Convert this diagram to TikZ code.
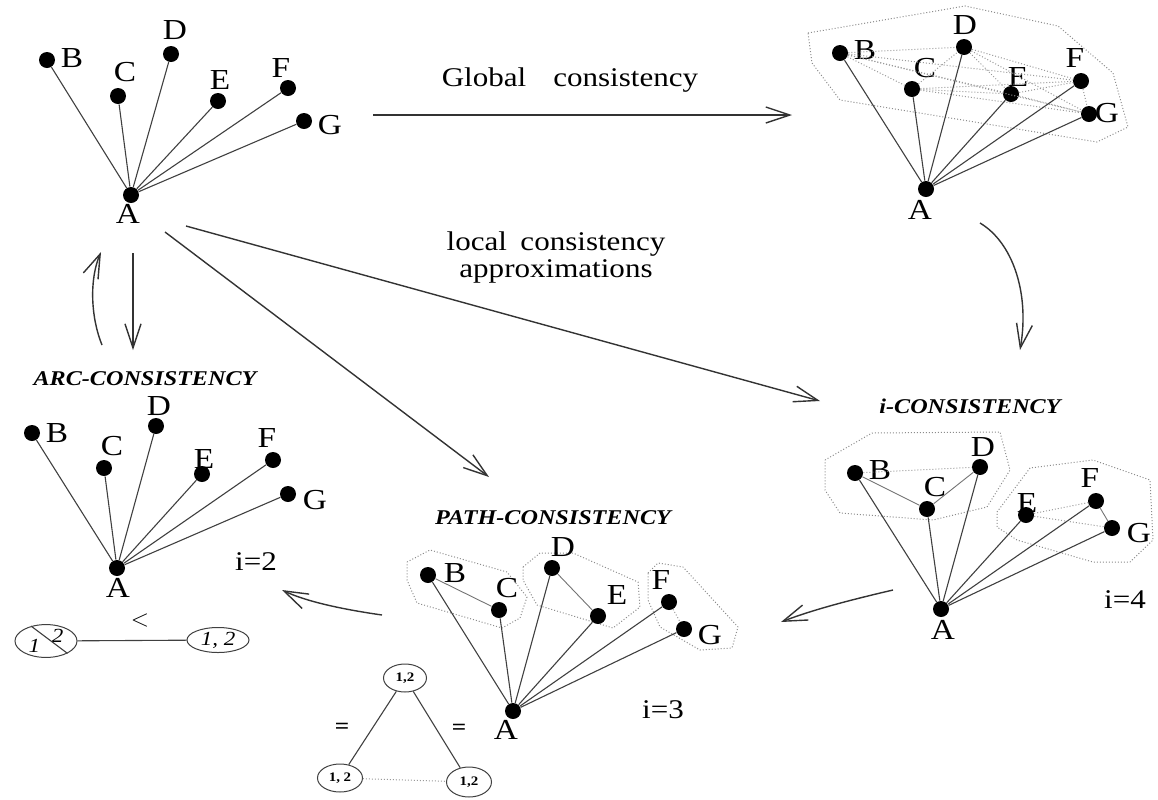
\documentclass[tikz,border=0pt]{standalone}
\usepackage{fontspec}
\setmainfont[FakeStretch=1.15]{Liberation Serif}
\usetikzlibrary{arrows.meta,shapes.geometric}

\begin{document}
\begin{tikzpicture}[x=0.5pt,y=-0.5pt,
  dot/.style={circle,fill=black,inner sep=0pt,minimum size=8pt},
  lbl/.style={font=\fontsize{14.5}{14.5}\selectfont,inner sep=1pt},
  edge/.style={draw=black!75,line width=0.55pt},
  thin/.style={draw=black!55,line width=0.45pt},
  weak/.style={draw=black!40,densely dotted,line width=0.5pt},
  hull/.style={draw=black!45,densely dotted,line width=0.5pt},
  arr/.style={draw=black!80,line width=0.7pt,-{Straight Barb[length=12pt,width=8pt]}},
  heading/.style={font=\fontsize{10.5}{10.5}\selectfont\bfseries\itshape,inner sep=1pt},
  dom/.style={ellipse,draw=black!75,line width=0.5pt,inner sep=0pt,
    minimum width=21.5pt,minimum height=14pt,font=\fontsize{6.5}{7}\selectfont\bfseries},
  dom2/.style={ellipse,draw=black!75,line width=0.5pt,inner sep=0pt,
    minimum width=31pt,minimum height=13pt,font=\fontsize{10}{10}\selectfont\itshape}
]
  \useasboundingbox (0,0) rectangle (1158,799);

  % the original network (top left)
  \foreach \n/\t/\x/\y/\lx/\ly in {a/A/131/195/128/214, b/B/47/60/72/58, c/C/118/96/125/72,
      d/D/171/54/175/30, e/E/218/101/220/80, f/F/288/88/281/68, g/G/304/121/330/125}
  {
    \node[dot] (\n1) at (\x,\y) {};
    \node[lbl] (\n1t) at (\lx,\ly) {\t};
  }
  \foreach \n in {b,c,d,e,f,g}
    \draw[edge] (a1) -- (\n1);

  % globally consistent network (top right)
  \draw[hull] (808,33) -- (965,6) -- (1058,26) -- (1113,73) -- (1128,127)
    -- (1097,142) -- (840,100) -- (812,63) -- cycle;
  \foreach \n/\t/\x/\y/\lx/\ly in {a/A/926/189/920/210, b/B/840/53/865/50, c/C/912/89/925/68,
      d/D/964/47/965/25, e/E/1011/94/1018/77, f/F/1081/81/1075/58, g/G/1089/114/1107/113}
  {
    \node[dot] (\n2) at (\x,\y) {};
    \node[lbl] (\n2t) at (\lx,\ly) {\t};
  }
  \foreach \u/\v in {b/c,b/d,b/e,b/f,b/g,c/d,c/e,c/f,c/g,d/e,d/f,d/g,e/f,e/g,f/g}
    \draw[weak] (\u2) -- (\v2);
  \foreach \n in {b,c,d,e,f,g}
    \draw[edge] (a2) -- (\n2);

  % i-consistency (middle right)
  \node[heading] (icons) at (970,406) {i-CONSISTENCY};
  \draw[hull] (825,460) -- (872,433) -- (1000,432) -- (1010,470) -- (987,507)
    -- (933,520) -- (840,513) -- (825,490) -- cycle;
  \draw[hull] (997,512) -- (1030,468) -- (1093,460) -- (1150,480) -- (1153,540)
    -- (1130,562) -- (1093,562) -- (1017,540) -- (997,527) -- cycle;
  \foreach \n/\t/\x/\y/\lx/\ly in {a/A/941/609/943/630, b/B/855/473/880/470, c/C/927/509/935/487,
      d/D/980/467/983/447, e/E/1026/515/1027/503, f/F/1096/501/1090/478, g/G/1112/528/1139/533}
  {
    \node[dot] (\n3) at (\x,\y) {};
    \node[lbl] (\n3t) at (\lx,\ly) {\t};
  }
  \foreach \n in {b,c,d,e,f,g}
    \draw[edge] (a3) -- (\n3);
  \draw[thin] (b3) -- (c3) -- (d3);
  \draw[thin] (f3) -- (g3);
  \draw[weak] (b3) -- (d3);
  \draw[weak] (e3) -- (f3);
  \draw[weak] (e3) -- (g3);
  \node[lbl,font=\fontsize{13.5}{13.5}\selectfont] (i4) at (1125,600) {i=4};

  % arc-consistency (middle left)
  \node[heading] (arcc) at (145,379) {ARC-CONSISTENCY};
  \foreach \n/\t/\x/\y/\lx/\ly in {a/A/117/568/118/588, b/B/32/433/57/433, c/C/104/468/112/446,
      d/D/156/426/159/406, e/E/202/474/204/459, f/F/273/460/267/438, g/G/288/494/315/500}
  {
    \node[dot] (\n4) at (\x,\y) {};
    \node[lbl] (\n4t) at (\lx,\ly) {\t};
  }
  \foreach \n in {b,c,d,e,f,g}
    \draw[edge] (a4) -- (\n4);
  \node[lbl,font=\fontsize{13.5}{13.5}\selectfont] (i2) at (256,562) {i=2};

  % two domains, one value removed
  \node[dom2] (u1) at (46,641) {\raisebox{-3pt}{1}\hspace{6pt}\raisebox{2pt}{2}};
  \node[dom2,minimum height=12.5pt] (u2) at (218,640) {1, 2};
  \draw[edge] (u1.135) -- (u1.-30);
  \draw[edge] (u1) -- node[above=3pt,xshift=4pt,font=\fontsize{12}{12}\selectfont] (lt) {$<$} (u2);

  % path-consistency (bottom middle)
  \node[heading] (pathc) at (553,518) {PATH-CONSISTENCY};
  \draw[hull] (407,562) -- (430,550) -- (507,572) -- (527,597) -- (520,618)
    -- (502,628) -- (417,603) -- (407,580) -- cycle;
  \draw[hull] (523,567) -- (540,553) -- (573,553) -- (638,582) -- (640,607)
    -- (613,628) -- (537,605) -- (523,580) -- cycle;
  \draw[hull] (648,573) -- (658,563) -- (683,567) -- (738,627) -- (732,648)
    -- (700,650) -- (660,627) -- (648,600) -- cycle;
  \foreach \n/\t/\x/\y/\lx/\ly in {a/A/513/711/506/730, b/B/428/575/455/573, c/C/499/610/507/588,
      d/D/552/568/563/547, e/E/598/616/617/595, f/F/669/602/661/580, g/G/684/629/710/635}
  {
    \node[dot] (\n5) at (\x,\y) {};
    \node[lbl] (\n5t) at (\lx,\ly) {\t};
  }
  \foreach \n in {b,c,d,e,f,g}
    \draw[edge] (a5) -- (\n5);
  \draw[thin] (b5) -- (c5);
  \draw[thin] (d5) -- (e5);
  \draw[weak] (f5) -- (g5);
  \node[lbl,font=\fontsize{13.5}{13.5}\selectfont] (i3) at (663,710) {i=3};

  % triangle of domains
  \node[dom] (t1) at (405,678) {1,2};
  \node[dom,minimum width=22.5pt] (t2) at (340,778) {1, 2};
  \node[dom,minimum width=22.5pt,minimum height=15pt] (t3) at (469,782) {1,2};
  \draw[edge] (t1) -- node[left=8pt,font=\fontsize{11}{11}\selectfont\bfseries] (eq1) {=} (t2);
  \draw[edge] (t1) -- node[right=4pt,font=\fontsize{11}{11}\selectfont\bfseries] (eq2) {=} (t3);
  \draw[weak] (t2) -- (t3);

  % arrows between the networks
  \coordinate (gs) at (373,115);
  \coordinate (ge) at (792,115);
  \draw[arr] (gs) -- (ge);
  \node[lbl,font=\fontsize{13.5}{13.5}\selectfont] (glob) at (570,80) {Global\quad consistency};

  \coordinate (rs) at (980,223);
  \coordinate (re) at (1020,350);
  \draw[arr] (rs) .. controls (1012,242) and (1030,292) .. (re);

  \coordinate (ls) at (186,226);
  \coordinate (le) at (820,401);
  \draw[arr] (ls) -- (le);
  \node[lbl,align=center,font=\fontsize{13.5}{13.5}\selectfont] (loc) at (556,257)
    {local\enspace consistency\\approximations};

  \coordinate (ps) at (165,232);
  \coordinate (pe) at (489,477);
  \draw[arr] (ps) -- (pe);

  \coordinate (ds) at (133,253);
  \coordinate (de) at (133,350);
  \draw[arr] (ds) -- (de);

  \coordinate (us) at (102,345);
  \coordinate (ue) at (101,252);
  \draw[arr] (us) .. controls (91,318) and (89,280) .. (ue);

  \coordinate (is) at (893,590);
  \coordinate (ie) at (781,622);
  \draw[arr] (is) .. controls (850,600) and (812,610) .. (ie);

  \coordinate (qs) at (382,615);
  \coordinate (qe) at (282,590);
  \draw[arr] (qs) .. controls (340,609) and (305,601) .. (qe);
\end{tikzpicture}
\end{document}
